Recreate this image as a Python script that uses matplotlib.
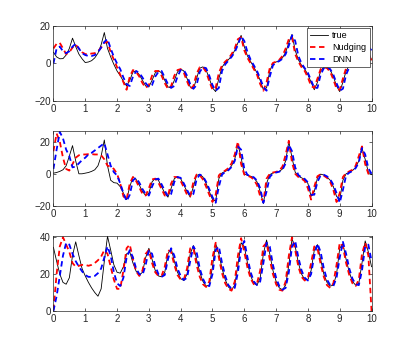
import numpy as np
import matplotlib
matplotlib.use("Agg")
import matplotlib.pyplot as plt

plt.rcParams["font.family"] = ["Liberation Sans", "DejaVu Sans"]
plt.rcParams["font.size"] = 7

# time grid (0.1 step)
t = np.linspace(0, 10, 101)

x_true = [6, 3.5, 2.5, 2.6, 4.5, 8, 13.5, 9, 5, 2.5,
          0.5, 0.8, 1.5, 3, 5.5, 10, 16.5, 8, 3.5, -0.5,
          -4, -6.5, -9.5, -12, -9, -4.5, -4, -6, -9, -12,
          -12.5, -9, -5, -3.8, -5, -9, -12.5, -13, -9, -4.5,
          -3, -4, -8, -12.5, -13.5, -8, -2.5, -1.8, -3.5, -8,
          -13, -15, -8, -2, 0.5, 2, 4, 7, 11, 15,
          9, 4, 1, -2, -5, -9, -14, -13, -4, 0,
          0.8, 1.5, 3, 6, 11, 15.5, 7, 2, -1, -3,
          -6, -10, -14, -10, -4, -2, -2, -3.5, -7, -12,
          -15, -10, -4, -1, 0.5, 1.5, 2.5, 5, 8.5, 6,
          2]
x_nudging = [8, 10.5, 11, 8, 5, 6, 8.5, 10, 8, 6,
             5, 5, 5.3, 5.5, 6.5, 8.5, 11, 11.5, 6, 2,
             -2, -6, -10, -14, -7, -3.5, -4.5, -7, -10.5, -13,
             -11.5, -6.5, -4, -4, -6.5, -10.5, -13.5, -12, -6.5, -3.5,
             -3, -5, -9.5, -13.5, -12, -5.5, -2, -2, -4.5, -9.5,
             -14, -13, -5, -1, 1, 2.5, 5, 8, 13, 14,
             7, 3, 0, -3, -6, -11, -14.5, -10, -2.5, 0.3,
             1, 2, 4, 8, 13, 14, 5, 1, -2, -4,
             -7.5, -12, -13, -8, -3, -2, -2.5, -4.5, -8.5, -13.5,
             -14, -8, -2.5, -0.5, 1, 2, 3.5, 6, 9, 5,
             1.5]
x_dnn = [0, 8, 9, 6.5, 5.5, 6.5, 9, 10.5, 8, 5.5,
         4.5, 4, 4, 4.5, 6, 8.5, 11.5, 13, 8, 3.5,
         0, -3, -7.5, -11, -12, -7, -4, -5, -7.5, -10.5,
         -12.5, -11.5, -7, -4.5, -4, -7.5, -11, -13, -12, -7,
         -3.5, -3.5, -6.5, -11, -13.5, -11.5, -4.5, -2, -2.5, -6.5,
         -11.5, -14.5, -13, -4, -0.5, 1.5, 3.5, 6, 10, 14.5,
         12, 6, 2, -1, -4, -8, -12.5, -14.5, -7, -1,
         0.5, 1.3, 2.5, 5, 9.5, 15, 12, 4, 0, -2.5,
         -5, -9, -13, -13, -6, -2.5, -2, -3, -6, -10.5,
         -14.5, -13.5, -6, -2, 0, 1.3, 2.2, 4, 7, 9,
         7]

y_true = [0.4, 0.8, 1.5, 2.5, 5, 11, 17.5, 8, 0, 0,
          0.4, 0.8, 1.5, 2.5, 5, 11, 21, 5, -4, -5.5,
          -5.8, -8, -12, -16, -8, -2, -3.5, -7, -11, -13.5,
          -12, -5, -2.8, -4, -8, -12, -14.5, -9, -3, -1.8,
          -3, -7, -11, -14.5, -8, -1, -0.3, -2, -6, -11,
          -16, -17, -3, 0.5, 1.5, 2.5, 5, 9, 18.5, 10,
          0, -1, -1.5, -2.5, -5, -11, -18.5, -6, -0.5, 0.5,
          1, 1.5, 3, 8, 20, 10, 1, -1.5, -2.5, -3.5,
          -6, -14, -11, -2.5, -0.2, -0.8, -2, -4, -8, -14,
          -16, -4, 0, 1, 2, 4, 8, 16, 9, 1,
          -0.5]
y_nudging = [14, 25, 20, 10, 3, 2, 6, 10, 11.5, 12,
             12, 12.2, 12.2, 12, 12, 11.5, 9, 5, 4.5, 3,
             0, -6, -14, -16, -6, -2, -4.5, -8.5, -12.5, -13.5,
             -9, -3.5, -3, -5.5, -9.5, -13.5, -13.5, -6, -2, -2,
             -4.5, -8.5, -13, -14, -5, -0.5, -0.8, -3.5, -8, -13,
             -17.5, -13, -1, 1, 2, 3.5, 6.5, 12, 20, 6,
             -0.5, -1.2, -2, -3.5, -7, -14, -17.5, -3, 0, 0.8,
             1.2, 2, 4.5, 12, 20.5, 7, 0, -2, -3, -4.5,
             -9, -16, -8, -1.5, -0.3, -1.2, -2.5, -5, -10, -17.5,
             -12, -2, 0.5, 1.5, 2.5, 5, 11, 17, 6, 0,
             -1]
y_dnn = [3, 15, 26, 22, 15, 11, 4, 4.5, 6.5, 8.5,
         10, 12, 13, 14.5, 16, 17.5, 19, 12, 5, 1,
         -1, -6, -12, -17, -13, -4, -2.5, -5.5, -9.5, -12.5,
         -13.5, -8, -3.5, -3, -6.5, -10.5, -14, -12.5, -5, -2,
         -2.5, -6, -10, -13.5, -12.5, -3.5, -0.5, -1.5, -5, -9.5,
         -14.5, -18, -8, -0.5, 1.2, 2.2, 4.2, 8, 17, 15,
         3, -0.7, -1.3, -2.2, -4.2, -9, -18, -11, -2, 0.2,
         0.8, 1.3, 2.5, 6.5, 18, 14, 4, -0.8, -2.2, -3.2,
         -5.3, -13, -13, -5, -1, -0.6, -1.6, -3.4, -6.8, -12,
         -18, -10, -1, 0.7, 1.7, 3.5, 7, 16, 12, 3.5,
         0]

z_true = [34.5, 27, 20, 15.5, 14.5, 18, 30, 37.5, 30, 23,
          19, 15.5, 12.5, 10, 8, 12, 27, 40.5, 33, 25,
          21, 20.5, 24, 31, 32, 26, 21.5, 19.5, 21, 29,
          34, 28, 22, 19, 18.5, 21, 31, 34, 27, 21,
          17.5, 16.5, 20, 31, 35.5, 28, 21, 16, 13.5, 14,
          24, 36.5, 31, 23, 17, 13, 11.5, 14, 25, 37,
          35, 26, 19, 15, 14, 18, 31, 38.5, 31, 22,
          16, 12.5, 11.5, 14, 25, 39, 35, 26, 20, 17,
          17, 22, 33, 36, 28, 20, 15.5, 13.5, 14, 20,
          34, 36.5, 28, 21, 16, 14, 15, 26, 38, 32,
          24]
z_nudging = [0.5, 20, 35, 40, 36, 32, 26, 24, 24.5, 25,
             25, 24.5, 25, 26, 27.5, 29.5, 33, 31, 24, 17,
             12, 12, 22, 34, 36, 28, 21.5, 19, 22, 31,
             33, 26, 21, 19, 19, 24, 33, 32, 25, 19.5,
             17, 17, 23, 34, 34, 25, 18.5, 14.5, 13, 16,
             29, 37, 29, 20.5, 15, 12, 11, 16, 30, 39.5,
             32, 23.5, 17.5, 14.5, 15, 22, 35, 37, 28, 20,
             14.5, 11.5, 11, 16, 30, 40, 33, 24, 18.5, 16.5,
             18, 26, 35, 34, 25.5, 18.5, 14, 12.5, 15, 25,
             37, 35, 26, 19.5, 15, 13.5, 17, 31, 37, 30,
             0]
z_dnn = [0, 8, 19, 30, 37, 36, 31, 27, 24, 21.5,
         19.5, 18.5, 18.5, 19, 20.5, 23, 29, 35, 30, 21,
         15, 13.5, 18, 29, 33, 29, 23, 20, 19.5, 25,
         33, 31, 24.5, 20, 18.5, 19.5, 28, 34, 30, 23,
         19, 16.8, 18, 27, 35, 32, 23, 17.5, 14, 13.5,
         20, 33, 35, 26, 19, 14, 12, 12.5, 21, 34,
         38, 29, 21, 16, 14, 16, 26, 37, 35, 25,
         18, 13.5, 11.5, 12.5, 21, 35, 38, 29, 22, 18,
         16.5, 20, 30, 36.5, 32, 23, 17, 14, 13.5, 18,
         29, 37.5, 31, 23, 17.5, 14.5, 14, 22, 35, 36,
         27]

panels = [
    (x_true, x_nudging, x_dnn, (-20, 20), [-20, 0, 20]),
    (y_true, y_nudging, y_dnn, (-20, 26.8), [-20, 0, 20]),
    (z_true, z_nudging, z_dnn, (0, 40.7), [0, 20, 40]),
]
positions = [
    [0.130, 0.7106, 0.774, 0.215],
    [0.130, 0.4097, 0.774, 0.216],
    [0.130, 0.109, 0.774, 0.215],
]

fig = plt.figure(figsize=(4.11, 3.49), dpi=100)
axc = "#262626"

for k, (tr, nu, dn, ylim, yticks) in enumerate(panels):
    ax = fig.add_axes(positions[k])
    ax.plot(t, tr, color="k", lw=0.6, label="true")
    ax.plot(t, nu, color="r", lw=1.3, dashes=(3, 2), label="Nudging")
    ax.plot(t, dn, color="b", lw=1.3, dashes=(3, 2), label="DNN")
    ax.set_xlim(0, 10)
    ax.set_ylim(*ylim)
    ax.set_xticks(range(0, 11))
    ax.set_yticks(yticks)
    ax.tick_params(direction="in", length=2.5, width=0.5, colors=axc,
                   top=True, right=True, labelsize=7, pad=2)
    for sp in ax.spines.values():
        sp.set_linewidth(0.5)
        sp.set_color(axc)
    if k == 0:
        leg = ax.legend(loc="upper right", fontsize=6.5, fancybox=False,
                        edgecolor=axc, framealpha=1, borderaxespad=0.2,
                        handlelength=2.0, labelspacing=0.3,
                        borderpad=0.4, handletextpad=0.4)
        leg.get_frame().set_linewidth(0.5)

fig.savefig("out.png", dpi=100)
